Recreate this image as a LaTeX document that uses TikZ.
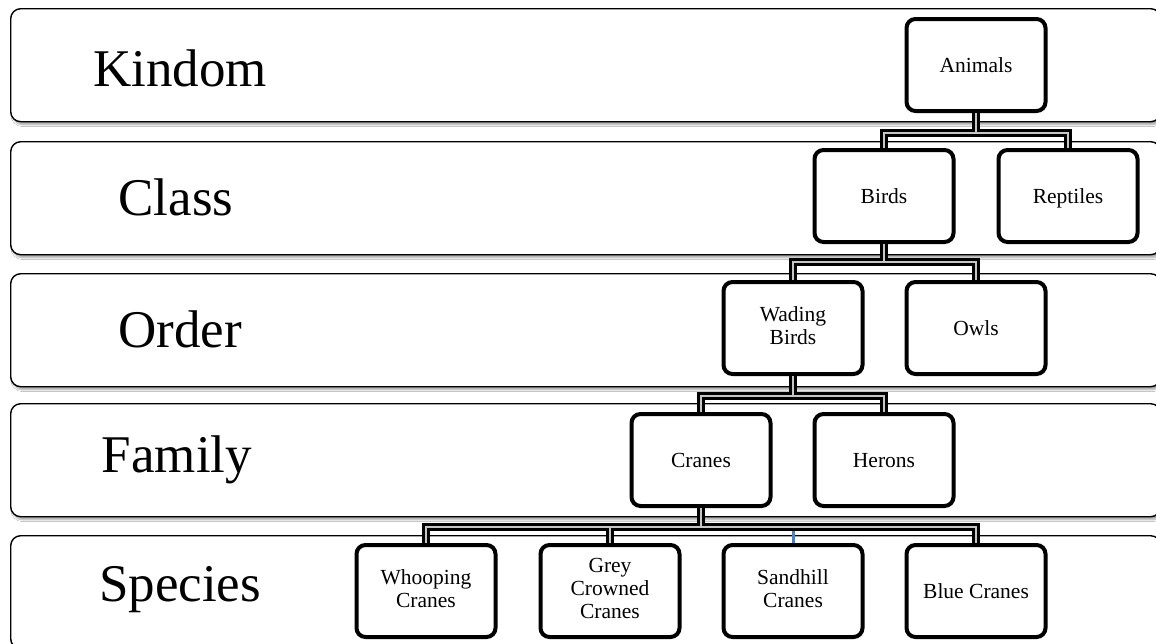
\documentclass[tikz,border=0pt]{standalone}
\usepackage{fontspec}
\setmainfont{Liberation Serif}
\usetikzlibrary{shadows,shadows.blur}
\newcommand\tstrutA{\rule{0pt}{19pt}}
\newcommand\tstrutB{\rule[-5pt]{0pt}{5pt}}
\tikzset{
  band/.style={draw=black, line width=1.4pt, rounded corners=10pt, fill=white,
    anchor=north west, minimum width=1150pt, minimum height=113pt, inner sep=0pt,
    blur shadow={shadow xshift=2pt, shadow yshift=-3pt, shadow blur steps=6, shadow opacity=35}},
  lvl/.style={font=\fontsize{53}{56}\selectfont, anchor=center, inner sep=0pt},
  taxon/.style={draw=black, line width=4pt, rounded corners=9pt, fill=white,
    minimum width=139pt, minimum height=92pt, inner sep=2pt, align=center,
    font=\fontsize{21.5}{23}\selectfont,
    execute at begin node=\tstrutA, execute at end node=\tstrutB},
  conn/.style={draw=black, line width=3pt, double=gray!45, double distance=2.6pt},
}
\begin{document}
\begin{tikzpicture}[x=1pt,y=-1pt]
\useasboundingbox (0,0) rectangle (1156,643);
\clip (0,0) rectangle (1156,643);
\fill[white] (0,0) rectangle (1156,643);
% bands
\node[band] (bk) at (10,8) {};
\node[band] (bc) at (10,141) {};
\node[band] (bo) at (10,273) {};
\node[band] (bf) at (10,403) {};
\node[band] (bs) at (10,535) {};
% level labels
\node[lvl] (lk) at (180,68) {Kindom};
\node[lvl] (lc) at (176,197) {Class};
\node[lvl] (lo) at (180,329) {Order};
\node[lvl] (lf) at (177,460) {Family};
\node[lvl] (ls) at (180,590) {Species};
% taxa
\node[taxon] (animals) at (976,65) {Animals};
\node[taxon] (birds) at (884,196) {Birds};
\node[taxon] (reptiles) at (1068,196) {Reptiles};
\node[taxon] (wading) at (793,328) {Wading\\Birds};
\node[taxon] (owls) at (976,328) {Owls};
\node[taxon] (cranes) at (701,460) {Cranes};
\node[taxon] (herons) at (884,460) {Herons};
\node[taxon] (whooping) at (426,591) {Whooping\\Cranes};
\node[taxon] (grey) at (610,591) {Grey\\Crowned\\Cranes};
\node[taxon] (sandhill) at (793,591) {Sandhill\\Cranes};
\node[taxon] (blue) at (976,591) {Blue Cranes};
% junction points
\path (animals.south) ++(0,20) coordinate (j1);
\path (birds.south) ++(0,18) coordinate (j2);
\path (wading.south) ++(0,20) coordinate (j3);
\path (cranes.south) ++(0,19) coordinate (j4);
% connectors
\draw[conn] (animals.south) -- (j1) (birds.north) |- (j1) -| (reptiles.north);
\draw[conn] (birds.south) -- (j2) (wading.north) |- (j2) -| (owls.north);
\draw[conn] (wading.south) -- (j3) (cranes.north) |- (j3) -| (herons.north);
\draw[conn] (cranes.south) -- (j4) (whooping.north) |- (j4) -| (blue.north)
  (grey.north) -- (grey.north |- j4);
\coordinate (tk) at (sandhill.north);
\draw[draw={rgb,255:red,79;green,129;blue,189}, line width=3pt] (tk) -- ++(0,-12);
\end{tikzpicture}
\end{document}
